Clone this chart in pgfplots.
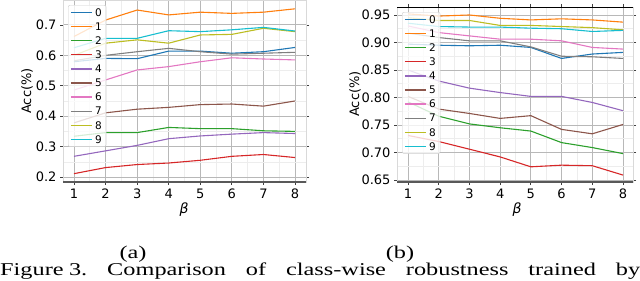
\documentclass[border=0pt]{standalone}
\usepackage{pgfplots}
\usepackage{pgfplotstable}
\pgfplotsset{compat=1.18}
\usepackage{fontspec}
\setmainfont{DejaVu Sans}
\newfontfamily\capfont{Liberation Serif}
\definecolor{c0}{HTML}{1F77B4}
\definecolor{c1}{HTML}{FF7F0E}
\definecolor{c2}{HTML}{2CA02C}
\definecolor{c3}{HTML}{D62728}
\definecolor{c4}{HTML}{9467BD}
\definecolor{c5}{HTML}{8C564B}
\definecolor{c6}{HTML}{E377C2}
\definecolor{c7}{HTML}{7F7F7F}
\definecolor{c8}{HTML}{BCBD22}
\definecolor{c9}{HTML}{17BECF}

\pgfplotstableread{
x c0 c1 c2 c3 c4 c5 c6 c7 c8 c9
1 0.579 0.662 0.334 0.211 0.268 0.378 0.486 0.582 0.600 0.625
2 0.590 0.716 0.346 0.231 0.286 0.411 0.519 0.600 0.640 0.656
3 0.589 0.749 0.346 0.241 0.304 0.423 0.552 0.612 0.651 0.656
4 0.614 0.733 0.363 0.246 0.326 0.429 0.563 0.623 0.640 0.681
5 0.614 0.742 0.359 0.255 0.335 0.438 0.579 0.612 0.667 0.678
6 0.607 0.738 0.359 0.268 0.341 0.440 0.592 0.604 0.669 0.684
7 0.612 0.742 0.352 0.274 0.346 0.433 0.588 0.607 0.689 0.692
8 0.626 0.753 0.350 0.264 0.343 0.450 0.585 0.610 0.678 0.680
}\tabA

\pgfplotstableread{
x c0 c1 c2 c3 c4 c5 c6 c7 c8 c9
1 0.897 0.952 0.792 0.731 0.850 0.802 0.930 0.917 0.945 0.935
2 0.895 0.948 0.766 0.720 0.830 0.779 0.918 0.909 0.940 0.929
3 0.894 0.950 0.752 0.706 0.817 0.771 0.912 0.903 0.940 0.928
4 0.895 0.944 0.745 0.692 0.809 0.762 0.906 0.903 0.931 0.928
5 0.891 0.941 0.739 0.674 0.802 0.767 0.906 0.892 0.931 0.926
6 0.871 0.943 0.718 0.677 0.802 0.742 0.903 0.875 0.929 0.925
7 0.879 0.941 0.709 0.676 0.791 0.734 0.891 0.874 0.927 0.920
8 0.882 0.937 0.698 0.659 0.776 0.751 0.888 0.871 0.923 0.922
}\tabB

\pgfplotsset{
  myaxis/.style={
    scale only axis, anchor=north west,
    xtick={1,...,8},
    grid=both, minor tick num=1,
    major grid style={draw=black!28, line width=0.9pt},
    minor grid style={draw=black!7, line width=0.6pt},
    axis line style={draw=black!15, line width=0.8pt},
    tick align=outside, major tick length=3pt, minor tick length=0pt,
    major tick style={draw=black!75, line width=0.8pt},
    ticklabel style={font=\fontsize{13}{15}\selectfont},
    /pgf/number format/assume math mode=true,
    clip=false,
    legend cell align=left,
    legend style={at={(0,1)}, anchor=north west, xshift=5pt, yshift=-5pt,
      fill=white, fill opacity=0.8, text opacity=1, draw=black!20,
      rounded corners=2pt, inner sep=2pt, row sep=3.6pt,
      font=\fontsize{10.5}{12}\selectfont,
      nodes={inner xsep=2.5pt, inner ysep=1.5pt, text height=7.5pt, text depth=0pt}},
    legend image code/.code={\draw[##1, line width=1.3pt, draw opacity=1] (0pt,0pt) -- (21pt,0pt);},
    every axis plot/.append style={line width=1.1pt},
  }
}

\begin{document}
\begin{tikzpicture}
\useasboundingbox (0pt,0pt) rectangle (640pt,-281pt);

% ---------- (a) ----------
\begin{axis}[myaxis, at={(63pt,0pt)}, width=243pt, height=182pt,
  xmin=0.652, xmax=8.348, ymin=0.1836, ymax=0.782,
  ytick={0.2,0.3,...,0.7},
  yticklabel style={/pgf/number format/.cd, fixed, precision=1}]
  \addplot[c0] table[x=x,y=c0]{\tabA}; \addlegendentry{0}
  \addplot[c1] table[x=x,y=c1]{\tabA}; \addlegendentry{1}
  \addplot[c2] table[x=x,y=c2]{\tabA}; \addlegendentry{2}
  \addplot[c3] table[x=x,y=c3]{\tabA}; \addlegendentry{3}
  \addplot[c4] table[x=x,y=c4]{\tabA}; \addlegendentry{4}
  \addplot[c5] table[x=x,y=c5]{\tabA}; \addlegendentry{5}
  \addplot[c6] table[x=x,y=c6]{\tabA}; \addlegendentry{6}
  \addplot[c7] table[x=x,y=c7]{\tabA}; \addlegendentry{7}
  \addplot[c8] table[x=x,y=c8]{\tabA}; \addlegendentry{8}
  \addplot[c9] table[x=x,y=c9]{\tabA}; \addlegendentry{9}
  \draw[black!65, line width=1.5pt] (rel axis cs:0,0) -- (rel axis cs:1,0);
\end{axis}

% ---------- (b) ----------
\begin{axis}[myaxis, at={(397pt,-7pt)}, width=236pt, height=175pt,
  xmin=0.642, xmax=8.326, ymin=0.6464, ymax=0.9645,
  ytick={0.65,0.70,...,0.951},
  yticklabel style={/pgf/number format/.cd, fixed, fixed zerofill, precision=2}]
  \addplot[c0] table[x=x,y=c0]{\tabB}; \addlegendentry{0}
  \addplot[c1] table[x=x,y=c1]{\tabB}; \addlegendentry{1}
  \addplot[c2] table[x=x,y=c2]{\tabB}; \addlegendentry{2}
  \addplot[c3] table[x=x,y=c3]{\tabB}; \addlegendentry{3}
  \addplot[c4] table[x=x,y=c4]{\tabB}; \addlegendentry{4}
  \addplot[c5] table[x=x,y=c5]{\tabB}; \addlegendentry{5}
  \addplot[c6] table[x=x,y=c6]{\tabB}; \addlegendentry{6}
  \addplot[c7] table[x=x,y=c7]{\tabB}; \addlegendentry{7}
  \addplot[c8] table[x=x,y=c8]{\tabB}; \addlegendentry{8}
  \addplot[c9] table[x=x,y=c9]{\tabB}; \addlegendentry{9}
  \draw[black!65, line width=1.5pt] (rel axis cs:0,0) -- (rel axis cs:1,0);
  \draw[black, line width=1pt] (rel axis cs:0,1) -- (rel axis cs:1,1);
\end{axis}

% axis labels
\node[rotate=90, font=\fontsize{13}{15}\selectfont] at (27pt,-91pt) {Acc(\%)};
\node[rotate=90, font=\fontsize{13}{15}\selectfont] at (355pt,-94pt) {Acc(\%)};
\node[font=\fontsize{14}{16}\selectfont\itshape] at (184pt,-210pt) {β};
\node[font=\fontsize{14}{16}\selectfont\itshape] at (517pt,-210pt) {β};

% captions
\node[font=\capfont\fontsize{18}{20}\selectfont, anchor=base, inner sep=0pt] at (133pt,-258pt) {\scalebox{1.35}[1]{(a)}};
\node[font=\capfont\fontsize{18}{20}\selectfont, anchor=base, inner sep=0pt] at (400pt,-258pt) {\scalebox{1.35}[1]{(b)}};
\node[font=\capfont\fontsize{18}{20}\selectfont, anchor=base west, inner sep=0pt] at (0pt,-275pt)
  {\scalebox{1.35}[1]{\hbox to 474.07pt{Figure\hspace{4pt}3.\hspace{14.8pt}Comparison\hfill of\hfill class-wise\hfill robustness\hfill trained\hfill by}}};
\end{tikzpicture}
\end{document}
